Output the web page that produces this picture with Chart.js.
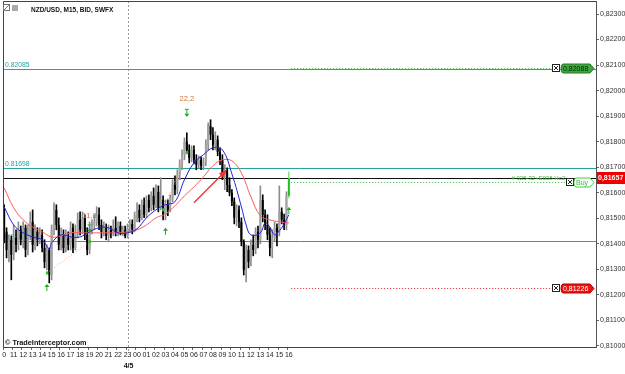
<!DOCTYPE html>
<html>
<head>
<meta charset="utf-8">
<script src="https://cdn.jsdelivr.net/npm/chart.js@4.4.0/dist/chart.umd.min.js"></script>
<style>
  html, body { margin: 0; padding: 0; background: #fff; }
  #wrap { width: 625px; height: 374px; position: relative; }
</style>
</head>
<body>
<div id="wrap"><canvas id="chart" width="625" height="374"></canvas></div>
<script>
/* global Chart */

// NZD/USD M15, one slot per 15 min candle, 10:00 (day 1) .. 16:00 (day 2), then empty future slots
const slotCount = 250;
const hourLabels = ["0", "11", "12", "13", "14", "15", "16", "17", "18", "19", "20", "21", "22", "23",
  "00", "01", "02", "03", "04", "05", "06", "07", "08", "09", "10", "11", "12", "13", "14", "15", "16"];
const daySplitAt = 52;
const dayLabel = "4/5";

const opens = [
  0.81533, 0.81447, 0.81376, 0.81416, 0.81357, 0.81423, 0.81396, 0.81455, 0.81416, 0.81463,
  0.81376, 0.81435, 0.81486, 0.81396, 0.81447, 0.81416, 0.81435, 0.81384, 0.81329, 0.81376,
  0.81278, 0.81455, 0.81533, 0.81474, 0.81396, 0.81435, 0.81384, 0.81423, 0.81396, 0.81463,
  0.81384, 0.81447, 0.81494, 0.81455, 0.81502, 0.81435, 0.81376, 0.81463, 0.81474, 0.81486,
  0.81514, 0.81474, 0.81447, 0.81463, 0.81431, 0.81455, 0.81439, 0.81463, 0.81447, 0.81470,
  0.81447, 0.81455, 0.81431, 0.81463, 0.81478, 0.81455, 0.81514, 0.81533, 0.81502, 0.81553,
  0.81514, 0.81572, 0.81541, 0.81588, 0.81553, 0.81604, 0.81541, 0.81572, 0.81514, 0.81553,
  0.81533, 0.81580, 0.81631, 0.81612, 0.81670, 0.81710, 0.81749, 0.81800, 0.81768, 0.81737,
  0.81768, 0.81729, 0.81710, 0.81729, 0.81706, 0.81721, 0.81788, 0.81862, 0.81827, 0.81788,
  0.81808, 0.81760, 0.81729, 0.81666, 0.81690, 0.81631, 0.81600, 0.81565, 0.81502, 0.81533,
  0.81486, 0.81408, 0.81298, 0.81376, 0.81329, 0.81396, 0.81376, 0.81447, 0.81416, 0.81572,
  0.81514, 0.81474, 0.81435, 0.81384, 0.81423, 0.81463, 0.81447, 0.81525, 0.81494, 0.81474,
  0.81588,
];
const highs = [
  0.81553, 0.81463, 0.81435, 0.81431, 0.81474, 0.81455, 0.81486, 0.81470, 0.81486, 0.81474,
  0.81474, 0.81525, 0.81533, 0.81474, 0.81463, 0.81463, 0.81455, 0.81416, 0.81396, 0.81384,
  0.81474, 0.81561, 0.81553, 0.81502, 0.81463, 0.81455, 0.81455, 0.81447, 0.81486, 0.81478,
  0.81474, 0.81521, 0.81525, 0.81525, 0.81514, 0.81463, 0.81486, 0.81494, 0.81514, 0.81545,
  0.81541, 0.81494, 0.81486, 0.81478, 0.81474, 0.81470, 0.81494, 0.81506, 0.81486, 0.81486,
  0.81470, 0.81470, 0.81478, 0.81494, 0.81494, 0.81525, 0.81561, 0.81553, 0.81572, 0.81580,
  0.81588, 0.81592, 0.81604, 0.81619, 0.81631, 0.81627, 0.81659, 0.81588, 0.81572, 0.81572,
  0.81592, 0.81651, 0.81666, 0.81690, 0.81729, 0.81768, 0.81815, 0.81835, 0.81788, 0.81784,
  0.81784, 0.81749, 0.81745, 0.81741, 0.81737, 0.81808, 0.81874, 0.81886, 0.81855, 0.81839,
  0.81823, 0.81776, 0.81749, 0.81710, 0.81698, 0.81659, 0.81612, 0.81580, 0.81553, 0.81549,
  0.81502, 0.81416, 0.81396, 0.81392, 0.81416, 0.81435, 0.81463, 0.81470, 0.81627, 0.81592,
  0.81533, 0.81514, 0.81463, 0.81455, 0.81486, 0.81478, 0.81627, 0.81541, 0.81517, 0.81604,
  0.81682,
];
const lows = [
  0.81404, 0.81345, 0.81329, 0.81259, 0.81337, 0.81368, 0.81376, 0.81396, 0.81384, 0.81349,
  0.81357, 0.81416, 0.81368, 0.81376, 0.81392, 0.81400, 0.81368, 0.81306, 0.81298, 0.81247,
  0.81259, 0.81435, 0.81455, 0.81376, 0.81376, 0.81365, 0.81368, 0.81376, 0.81376, 0.81365,
  0.81376, 0.81423, 0.81435, 0.81439, 0.81416, 0.81357, 0.81361, 0.81439, 0.81455, 0.81470,
  0.81455, 0.81423, 0.81431, 0.81416, 0.81408, 0.81423, 0.81431, 0.81431, 0.81431, 0.81435,
  0.81431, 0.81423, 0.81423, 0.81447, 0.81439, 0.81447, 0.81486, 0.81486, 0.81494, 0.81502,
  0.81502, 0.81525, 0.81529, 0.81533, 0.81541, 0.81525, 0.81533, 0.81494, 0.81494, 0.81510,
  0.81525, 0.81565, 0.81592, 0.81596, 0.81651, 0.81690, 0.81729, 0.81753, 0.81717, 0.81721,
  0.81713, 0.81690, 0.81698, 0.81690, 0.81690, 0.81706, 0.81768, 0.81808, 0.81768, 0.81768,
  0.81745, 0.81710, 0.81651, 0.81612, 0.81604, 0.81588, 0.81549, 0.81478, 0.81470, 0.81463,
  0.81392, 0.81278, 0.81251, 0.81306, 0.81314, 0.81353, 0.81361, 0.81384, 0.81400, 0.81486,
  0.81455, 0.81416, 0.81353, 0.81345, 0.81408, 0.81392, 0.81431, 0.81478, 0.81455, 0.81455,
  0.81580,
];
const closes = [
  0.81447, 0.81376, 0.81416, 0.81357, 0.81423, 0.81396, 0.81455, 0.81416, 0.81463, 0.81376,
  0.81435, 0.81486, 0.81396, 0.81447, 0.81416, 0.81435, 0.81384, 0.81329, 0.81376, 0.81278,
  0.81455, 0.81533, 0.81474, 0.81396, 0.81435, 0.81384, 0.81423, 0.81396, 0.81463, 0.81384,
  0.81447, 0.81494, 0.81455, 0.81502, 0.81435, 0.81376, 0.81463, 0.81474, 0.81486, 0.81514,
  0.81474, 0.81447, 0.81463, 0.81431, 0.81455, 0.81439, 0.81463, 0.81447, 0.81470, 0.81447,
  0.81455, 0.81431, 0.81463, 0.81478, 0.81455, 0.81514, 0.81533, 0.81502, 0.81553, 0.81514,
  0.81572, 0.81541, 0.81588, 0.81553, 0.81604, 0.81541, 0.81572, 0.81514, 0.81553, 0.81533,
  0.81580, 0.81631, 0.81612, 0.81670, 0.81710, 0.81749, 0.81800, 0.81768, 0.81737, 0.81768,
  0.81729, 0.81710, 0.81729, 0.81706, 0.81721, 0.81788, 0.81862, 0.81827, 0.81788, 0.81808,
  0.81760, 0.81729, 0.81666, 0.81690, 0.81631, 0.81600, 0.81565, 0.81502, 0.81533, 0.81486,
  0.81408, 0.81298, 0.81376, 0.81329, 0.81396, 0.81376, 0.81447, 0.81416, 0.81572, 0.81514,
  0.81474, 0.81435, 0.81384, 0.81423, 0.81463, 0.81447, 0.81525, 0.81494, 0.81474, 0.81588,
  0.81657,
];

// moving averages at a few candles
const fastMaAt = [0, 4, 8, 12, 16, 19, 20, 24, 28, 32, 36, 40, 44, 48, 52, 56, 60, 64, 68, 72,
  76, 80, 84, 88, 92, 96, 100, 102, 104, 108, 110, 112, 114, 116, 118, 120];
const fastMa = [0.81545, 0.81474, 0.81443, 0.81427, 0.81416, 0.81380, 0.81404, 0.81435, 0.81427, 0.81427,
  0.81447, 0.81463, 0.81463, 0.81443, 0.81443, 0.81459, 0.81502, 0.81533, 0.81553, 0.81565,
  0.81651, 0.81717, 0.81749, 0.81776, 0.81768, 0.81674, 0.81545, 0.81474, 0.81435, 0.81443,
  0.81482, 0.81466, 0.81435, 0.81451, 0.81478, 0.81514];
const slowMaAt = [0, 4, 8, 12, 16, 20, 24, 28, 32, 36, 40, 44, 48, 52, 56, 60, 64, 68, 72, 76,
  80, 84, 88, 92, 96, 100, 104, 108, 112, 116, 120];
const slowMa = [0.81619, 0.81541, 0.81494, 0.81466, 0.81447, 0.81427, 0.81431, 0.81443, 0.81443, 0.81443,
  0.81443, 0.81443, 0.81443, 0.81447, 0.81455, 0.81474, 0.81502, 0.81517, 0.81549, 0.81588,
  0.81623, 0.81662, 0.81706, 0.81729, 0.81725, 0.81678, 0.81584, 0.81510, 0.81494, 0.81486,
  0.81482];

// zigzag legs and their size labels
const zigzagFrom = [[18, 0.81286], [67, 0.81533]];
const zigzagTo = [[36, 0.81408], [77, 0.81757]];
const zigzagText = [[36, 0.81510, "11,8"], [77, 0.81968, "22,2"]];
const upArrows = [[18, 0.81227], [68, 0.81447], [120, 0.81529]];
const downArrows = [[36, 0.81460], [77, 0.81913]];
const trendArrow = [[80, 0.81561], [93, 0.81682]];

// horizontal levels
const tealLevels = [0.82085, 0.81698, 0.81412];
const tealTexts = ["0.82085", "0.81698", "0.81412"];
const lastPrice = 0.81657;
const buyPrice = 0.81643;
const takeProfit = 0.82088;
const stopLoss = 0.81226;
const orderNote = "# 025-32+E008 Hc2";

const yTicks = [0.810, 0.811, 0.812, 0.813, 0.814, 0.815, 0.816, 0.817, 0.818, 0.819, 0.820, 0.821, 0.822, 0.823];

const FONT = "'Liberation Sans', Arial, sans-serif";
const TEAL = "#23a29e";

// build what the library needs
const slotLabels = Array.from({ length: slotCount }, () => "");
hourLabels.forEach((h, i) => { slotLabels[i * 4] = h; });

const lastIdx = closes.length - 1;
const isUp = (i) => closes[i] >= opens[i];
const bodyColor = closes.map((c, i) => (i === lastIdx ? "#1fbf1f" : isUp(i) ? "#a3a3a3" : "#000"));
const wickColor = closes.map((c, i) => (i === lastIdx ? "#8fe08f" : isUp(i) ? "#8c8c8c" : "#000"));

function sparse(at, vals) {
  const arr = new Array(closes.length).fill(null);
  at.forEach((k, j) => { arr[k] = vals[j]; });
  return arr;
}

function segment(a, b) {
  const arr = new Array(closes.length).fill(null);
  arr[a[0]] = a[1];
  arr[b[0]] = b[1];
  return arr;
}

function hline(ctx, x1, x2, y) {
  ctx.beginPath();
  ctx.moveTo(x1, y);
  ctx.lineTo(x2, y);
  ctx.stroke();
}

function xBox(ctx, x, y) {
  ctx.fillStyle = "#fff";
  ctx.fillRect(x, y - 4, 8, 8);
  ctx.strokeStyle = "#222";
  ctx.lineWidth = 1;
  ctx.strokeRect(x + 0.5, y - 3.5, 7, 7);
  ctx.beginPath();
  ctx.moveTo(x + 2, y - 2); ctx.lineTo(x + 6, y + 2);
  ctx.moveTo(x + 6, y - 2); ctx.lineTo(x + 2, y + 2);
  ctx.stroke();
}

function tag(ctx, x1, x2, y, fill, stroke, text, color) {
  const h = 9;
  ctx.beginPath();
  ctx.moveTo(x1 + 2, y - h / 2);
  ctx.lineTo(x2 - 4, y - h / 2);
  ctx.lineTo(x2, y);
  ctx.lineTo(x2 - 4, y + h / 2);
  ctx.lineTo(x1 + 2, y + h / 2);
  ctx.quadraticCurveTo(x1, y + h / 2, x1, y);
  ctx.quadraticCurveTo(x1, y - h / 2, x1 + 2, y - h / 2);
  ctx.closePath();
  ctx.fillStyle = fill;
  ctx.fill();
  ctx.strokeStyle = stroke;
  ctx.lineWidth = 1;
  ctx.stroke();
  ctx.fillStyle = color;
  ctx.font = `7px ${FONT}`;
  ctx.textAlign = "left";
  ctx.textBaseline = "middle";
  ctx.fillText(text, x1 + 2, y + 0.5);
}

function arrowMark(ctx, px, py, up) {
  ctx.strokeStyle = "#22aa22";
  ctx.fillStyle = "#22aa22";
  ctx.lineWidth = 1;
  const s = up ? -1 : 1;
  ctx.beginPath();
  ctx.moveTo(px, py - 3 * s);
  ctx.lineTo(px, py + 3 * s);
  ctx.stroke();
  ctx.beginPath();
  ctx.moveTo(px - 2.5, py + 1 * s);
  ctx.lineTo(px + 2.5, py + 1 * s);
  ctx.lineTo(px, py + 4 * s);
  ctx.closePath();
  ctx.fill();
  if (!up) hline(ctx, px - 2, px + 2, py - 3.5);
}

const overlay = {
  id: "overlay",
  beforeDatasetsDraw(chart) {
    const { ctx, chartArea: a, scales: { x, y } } = chart;
    const py = (p) => Math.round(y.getPixelForValue(p)) + 0.5;
    ctx.save();

    // day separator
    ctx.strokeStyle = "#9a9a9a";
    ctx.lineWidth = 1;
    ctx.setLineDash([2, 2]);
    const sx = Math.round(x.getPixelForValue(daySplitAt)) + 0.5;
    ctx.beginPath();
    ctx.moveTo(sx, a.top);
    ctx.lineTo(sx, a.bottom + 6);
    ctx.stroke();
    ctx.setLineDash([]);

    ctx.strokeStyle = TEAL;
    tealLevels.forEach((p) => hline(ctx, a.left, a.right, py(p)));
    ctx.strokeStyle = "#111";
    hline(ctx, a.left, a.right, py(lastPrice));

    ctx.fillStyle = TEAL;
    ctx.font = `6.8px ${FONT}`;
    ctx.textAlign = "left";
    ctx.textBaseline = "bottom";
    tealLevels.forEach((p, i) => ctx.fillText(tealTexts[i], a.left + 2, py(p) - 1));

    // pending order lines
    const ox = x.getPixelForValue(lastIdx + 1);
    ctx.setLineDash([1, 2]);
    ctx.strokeStyle = "#33bb33";
    hline(ctx, ox, 553, py(takeProfit));
    hline(ctx, ox, 566, py(buyPrice));
    ctx.strokeStyle = "#e02020";
    hline(ctx, ox, 553, py(stopLoss));
    ctx.setLineDash([]);
    ctx.restore();
  },
  afterDatasetsDraw(chart) {
    const { ctx, chartArea: a, scales: { x, y } } = chart;
    const px = (i) => x.getPixelForValue(i);
    const py = (p) => y.getPixelForValue(p);
    ctx.save();

    // frame
    ctx.strokeStyle = "#444";
    ctx.lineWidth = 1;
    ctx.beginPath();
    ctx.moveTo(a.right + 0.5, a.top + 0.5);
    ctx.lineTo(a.left + 0.5, a.top + 0.5);
    ctx.lineTo(a.left + 0.5, a.bottom + 0.5);
    ctx.lineTo(a.right + 0.5, a.bottom + 0.5);
    ctx.stroke();

    // trend arrow
    const [f, t] = trendArrow;
    const x1 = px(f[0]), y1 = py(f[1]), x2 = px(t[0]), y2 = py(t[1]);
    const ang = Math.atan2(y2 - y1, x2 - x1);
    ctx.strokeStyle = "#f03030";
    ctx.fillStyle = "#f03030";
    ctx.lineWidth = 1.3;
    ctx.beginPath();
    ctx.moveTo(x1, y1);
    ctx.lineTo(x2, y2);
    ctx.stroke();
    ctx.beginPath();
    ctx.moveTo(x2 + 3 * Math.cos(ang), y2 + 3 * Math.sin(ang));
    ctx.lineTo(x2 + 6 * Math.cos(ang + 2.6), y2 + 6 * Math.sin(ang + 2.6));
    ctx.lineTo(x2 + 6 * Math.cos(ang - 2.6), y2 + 6 * Math.sin(ang - 2.6));
    ctx.closePath();
    ctx.fill();

    // zigzag end points, arrows, labels
    ctx.fillStyle = "#33bb33";
    zigzagFrom.concat(zigzagTo).forEach(([i, p]) => ctx.fillRect(px(i) - 1, py(p) - 1.5, 2.5, 3));
    upArrows.forEach(([i, p]) => arrowMark(ctx, px(i), py(p), true));
    downArrows.forEach(([i, p]) => arrowMark(ctx, px(i), py(p), false));
    ctx.fillStyle = "#c8713a";
    ctx.font = `7.5px ${FONT}`;
    ctx.textAlign = "center";
    ctx.textBaseline = "middle";
    zigzagText.forEach(([i, p, s]) => ctx.fillText(s, px(i), py(p)));

    // order tags
    xBox(ctx, 552, Math.round(py(takeProfit)));
    tag(ctx, 561, 594, Math.round(py(takeProfit)) + 0.5, "#3aa83a", "#2a7a2a", takeProfit.toFixed(5).replace(".", ","), "#102010");
    xBox(ctx, 566, Math.round(py(buyPrice)));
    tag(ctx, 574, 594, Math.round(py(buyPrice)) + 0.5, "#fff", "#44cc44", "Buy", "#33bb33");
    xBox(ctx, 552, Math.round(py(stopLoss)));
    tag(ctx, 561, 594, Math.round(py(stopLoss)) + 0.5, "#ee1111", "#b00000", stopLoss.toFixed(5).replace(".", ","), "#fff");

    ctx.fillStyle = "#33bb33";
    ctx.font = `6px ${FONT}`;
    ctx.textAlign = "right";
    ctx.textBaseline = "middle";
    ctx.fillText(orderNote, 565, Math.round(py(buyPrice)) - 4);

    // current price on the axis
    const cy = Math.round(py(lastPrice));
    ctx.fillStyle = "#ee0000";
    ctx.fillRect(a.right + 1, cy - 6, 28, 12);
    ctx.fillStyle = "#fff";
    ctx.font = `bold 7px ${FONT}`;
    ctx.textAlign = "left";
    ctx.fillText(lastPrice.toFixed(5).replace(".", ","), a.right + 2, cy);

    // header
    ctx.strokeStyle = "#777";
    ctx.strokeRect(3.5, 4.5, 6, 6);
    ctx.beginPath();
    ctx.moveTo(4, 10); ctx.lineTo(9, 5);
    ctx.stroke();
    ctx.fillStyle = "#aaa";
    ctx.fillRect(12, 5, 6, 6);
    ctx.fillStyle = "#111";
    ctx.font = `bold 6.5px ${FONT}`;
    ctx.textAlign = "left";
    ctx.fillText("NZD/USD, M15, BID, SWFX", 31, 10);

    ctx.font = `bold 7.3px ${FONT}`;
    ctx.fillText("\u00a9 TradeInterceptor.com", 5, 343);

    ctx.font = `bold 7px ${FONT}`;
    ctx.textAlign = "center";
    ctx.fillText(dayLabel, px(daySplitAt) + 1, 366);
    ctx.restore();
  },
};

const ctx = document.getElementById("chart");
new Chart(ctx, {
  data: {
    labels: slotLabels,
    datasets: [
      {
        type: "line",
        data: sparse(fastMaAt, fastMa),
        borderColor: "#2222dd",
        borderWidth: 1,
        pointRadius: 0,
        tension: 0.4,
        spanGaps: true,
      },
      {
        type: "line",
        data: sparse(slowMaAt, slowMa),
        borderColor: "#ff5a5a",
        borderWidth: 1,
        pointRadius: 0,
        tension: 0.4,
        spanGaps: true,
      },
      ...zigzagFrom.map((a, k) => ({
        type: "line",
        data: segment(a, zigzagTo[k]),
        borderColor: "#f0a070",
        borderWidth: 1,
        borderDash: [1, 2],
        pointRadius: 0,
        spanGaps: true,
      })),
      {
        type: "bar",
        data: closes.map((c, i) => [opens[i], c]),
        backgroundColor: bodyColor,
        borderWidth: 0,
        grouped: false,
        barPercentage: 0.85,
        categoryPercentage: 1,
        minBarLength: 1,
      },
      {
        type: "bar",
        data: highs.map((h, i) => [lows[i], h]),
        backgroundColor: wickColor,
        borderWidth: 0,
        grouped: false,
        barThickness: 1,
        minBarLength: 1,
      },
    ],
  },
  options: {
    responsive: false,
    animation: false,
    devicePixelRatio: 1,
    layout: { padding: { left: 3, top: 1, right: 0, bottom: 0 } },
    plugins: { legend: { display: false }, tooltip: { enabled: false } },
    scales: {
      x: {
        type: "category",
        offset: true,
        grid: {
          drawOnChartArea: false,
          tickLength: 3,
          color: (c) => (c.index % 4 === 0 && c.index <= lastIdx ? "#666" : "rgba(0,0,0,0)"),
        },
        border: { display: false },
        ticks: {
          autoSkip: false,
          maxRotation: 0,
          minRotation: 0,
          padding: 1,
          color: "#222",
          font: { size: 7, family: FONT },
        },
        afterFit: (s) => { s.height = 27; s.paddingLeft = 0; s.paddingRight = 0; },
      },
      y: {
        position: "right",
        min: 0.80996,
        max: 0.82351,
        afterBuildTicks: (s) => { s.ticks = yTicks.map((v) => ({ value: v })); },
        grid: { drawOnChartArea: false, tickLength: 3, color: "#666" },
        border: { display: true, color: "#555" },
        ticks: {
          padding: 1,
          color: "#333",
          font: { size: 7, family: FONT },
          callback: (v) => Number(v).toFixed(5).replace(".", ","),
        },
        afterFit: (s) => { s.width = 29; s.paddingTop = 0; s.paddingBottom = 0; },
      },
    },
  },
  plugins: [overlay],
});
</script>
</body>
</html>
